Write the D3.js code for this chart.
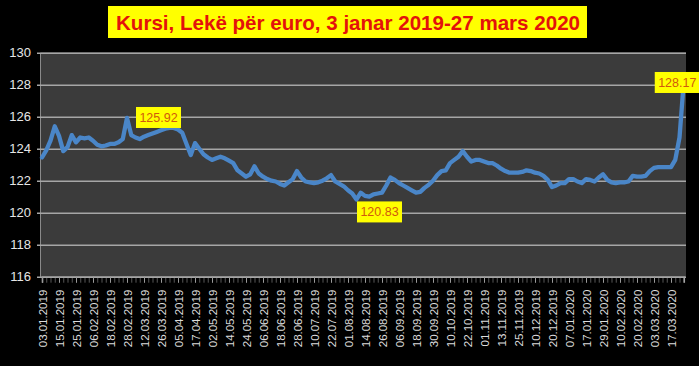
<!DOCTYPE html>
<html>
<head>
<meta charset="utf-8">
<script src="https://cdn.jsdelivr.net/npm/d3@7"></script>
<style>
  html, body { margin: 0; padding: 0; background: #000; }
  svg { display: block; }
</style>
</head>
<body>
<svg id="chart" width="699" height="366"></svg>
<script>
const title = "Kursi, Lekë për euro, 3 janar 2019-27 mars 2020";

const tickLabels = [
  "03.01.2019","15.01.2019","25.01.2019","06.02.2019","18.02.2019","28.02.2019",
  "12.03.2019","26.03.2019","05.04.2019","17.04.2019","02.05.2019","14.05.2019",
  "24.05.2019","06.06.2019","18.06.2019","28.06.2019","10.07.2019","22.07.2019",
  "01.08.2019","14.08.2019","26.08.2019","06.09.2019","18.09.2019","30.09.2019",
  "10.10.2019","22.10.2019","01.11.2019","13.11.2019","25.11.2019","10.12.2019",
  "20.12.2019","07.01.2020","17.01.2020","29.01.2020","10.02.2020","20.02.2020",
  "03.03.2020","17.03.2020"
];
const pointsPerTick = 4;

const yTicks = [116, 118, 120, 122, 124, 126, 128, 130];

const values = [
  123.45,123.9,124.5,125.4,124.8,123.85,124.1,124.85,124.4,124.7,
  124.65,124.7,124.5,124.25,124.15,124.2,124.3,124.3,124.4,124.6,
  125.92,124.85,124.7,124.6,124.75,124.85,124.95,125.05,125.15,125.25,
  125.3,125.3,125.2,125.0,124.3,123.6,124.35,124.0,123.65,123.45,
  123.3,123.4,123.5,123.4,123.25,123.1,122.65,122.45,122.25,122.4,
  122.9,122.45,122.25,122.1,122.0,121.95,121.8,121.7,121.9,122.1,
  122.6,122.2,121.95,121.9,121.85,121.9,122.0,122.15,122.35,121.95,
  121.8,121.65,121.4,121.2,120.83,121.25,121.05,121.0,121.15,121.2,
  121.25,121.7,122.2,122.05,121.85,121.7,121.55,121.4,121.25,121.3,
  121.55,121.75,122.0,122.35,122.6,122.65,123.1,123.3,123.5,123.85,
  123.5,123.2,123.3,123.3,123.2,123.1,123.1,122.95,122.75,122.6,
  122.5,122.5,122.5,122.55,122.65,122.6,122.5,122.45,122.3,122.05,
  121.6,121.7,121.85,121.85,122.1,122.1,121.95,121.85,122.1,122.05,
  121.95,122.2,122.4,122.05,121.9,121.85,121.9,121.9,121.95,122.3,
  122.25,122.25,122.3,122.6,122.8,122.85,122.85,122.85,122.85,123.3,
  124.7,128.17
];

const callouts = [
  { index: 20, text: "125.92" },
  { index: 74, text: "120.83" },
  { index: 151, text: "128.17" }
];

const svg = d3.select("#chart");
const W = 699, H = 366;
svg.append("rect").attr("width", W).attr("height", H).attr("fill", "#000");

const plot = { left: 40, right: 686, top: 52.7, bottom: 276.7 };

const x = d3.scaleLinear().domain([0, values.length - 1]).range([42, 683.75]);
const y = d3.scaleLinear().domain([116, 130]).range([plot.bottom, plot.top]);

// plot background
svg.append("rect")
  .attr("x", plot.left).attr("y", plot.top)
  .attr("width", plot.right - plot.left).attr("height", plot.bottom - plot.top)
  .attr("fill", "#3b3b3b");

// gridlines + y axis
const yAxis = d3.axisLeft(y).tickValues(yTicks).tickSize(-(plot.right - plot.left)).tickPadding(9).tickFormat(d3.format("d"));
const gy = svg.append("g").attr("transform", `translate(${plot.left},0)`).call(yAxis);
gy.select(".domain").attr("stroke", "#8a8a8a").attr("stroke-width", 1);
gy.selectAll(".tick line").attr("stroke", "#a6a6a6").attr("stroke-width", 1.6).attr("x1", -3);
gy.selectAll(".tick text")
  .attr("fill", "#e6e6e6").attr("font-family", "Liberation Sans, Arial, sans-serif").attr("font-size", 13);

// minor ticks on x axis
const minor = d3.axisBottom(x).tickValues(d3.range(values.length)).tickSize(6).tickFormat("");
const gm = svg.append("g").attr("transform", `translate(0,${plot.bottom})`).call(minor);
gm.select(".domain").remove();
gm.selectAll(".tick line").attr("stroke", "#7a7a7a").attr("stroke-width", 1).attr("opacity", 0.7);

// x axis labels
const labelIdx = tickLabels.map((d, i) => i * pointsPerTick);
const xAxis = d3.axisBottom(x).tickValues(labelIdx).tickSize(6).tickFormat((d, i) => tickLabels[i]);
const gx = svg.append("g").attr("transform", `translate(0,${plot.bottom})`).call(xAxis);
gx.select(".domain").attr("stroke", "#a6a6a6").attr("stroke-width", 1.6);
gx.selectAll(".tick line").attr("stroke", "#9a9a9a");
gx.selectAll(".tick text")
  .attr("fill", "#dcdcdc")
  .attr("font-family", "Liberation Sans, Arial, sans-serif")
  .attr("font-size", 11.5)
  .attr("text-anchor", "end")
  .attr("transform", "rotate(-90)")
  .attr("x", -13)
  .attr("y", 0)
  .attr("dy", "0.35em");

// line
const line = d3.line().x((d, i) => x(i)).y(d => y(d));
svg.append("path")
  .datum(values)
  .attr("d", line)
  .attr("fill", "none")
  .attr("stroke", "#4a86c8")
  .attr("stroke-width", 4.3)
  .attr("stroke-linejoin", "round")
  .attr("stroke-linecap", "round");

// callouts (offsets relative to the point)
const offsets = {
  "125.92": { dx: 9, dy: -11 },
  "120.83": { dx: 0.5, dy: 2 },
  "128.17": { dx: -29, dy: -10 }
};
callouts.forEach(c => {
  const px = x(c.index), py = y(values[c.index]);
  const o = offsets[c.text];
  const bw = 45, bh = 21;
  const bx = px + o.dx, by = py + o.dy;
  svg.append("rect").attr("x", bx).attr("y", by).attr("width", bw).attr("height", bh).attr("fill", "#ffff00");
  svg.append("text")
    .attr("x", bx + bw / 2).attr("y", by + bh / 2)
    .attr("dy", "0.36em")
    .attr("text-anchor", "middle")
    .attr("font-family", "Liberation Sans, Arial, sans-serif")
    .attr("font-size", 12.5)
    .attr("fill", "#d15a0c")
    .text(c.text);
});

// title
svg.append("rect").attr("x", 108).attr("y", 6).attr("width", 479).attr("height", 32).attr("fill", "#ffff00");
svg.append("text")
  .attr("x", 116).attr("y", 30)
  .attr("font-family", "Liberation Sans, Arial, sans-serif")
  .attr("font-weight", "bold")
  .attr("font-size", 21)
  .attr("fill", "#e3120b")
  .attr("textLength", 464)
  .attr("lengthAdjust", "spacingAndGlyphs")
  .text(title);
</script>
</body>
</html>
